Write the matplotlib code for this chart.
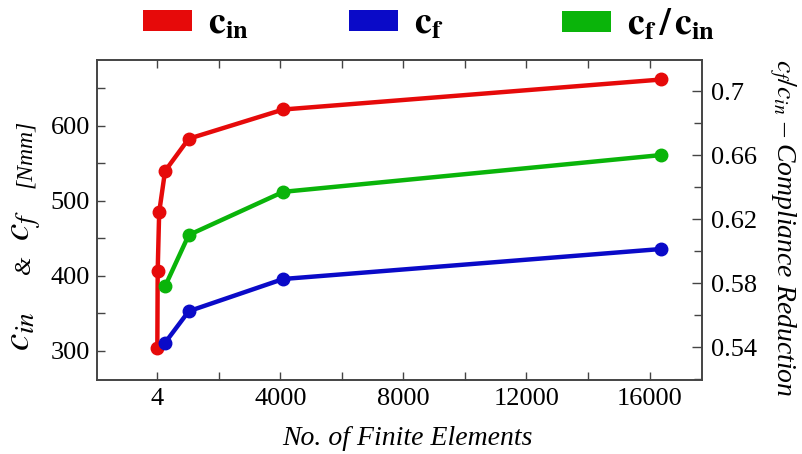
import matplotlib
matplotlib.use("Agg")
import matplotlib.pyplot as plt
from matplotlib.patches import Patch
from matplotlib.ticker import FixedLocator, MultipleLocator

# ---- data ----
n_in = [4, 16, 64, 256, 1024, 4096, 16384]
c_in = [304, 407, 485, 540, 583, 622, 662]
n_f = [256, 1024, 4096, 16384]
c_f = [311, 353, 396, 436]
ratio = [0.578, 0.610, 0.637, 0.660]
x_ticks = [4, 4000, 8000, 12000, 16000]
x_ticklabels = ["4", "4000", "8000", "12000", "16000"]
left_ticks = [300, 400, 500, 600]
right_ticks = [0.54, 0.58, 0.62, 0.66, 0.70]
right_ticklabels = ["0.54", "0.58", "0.62", "0.66", "0.7"]

RED, BLUE, GREEN = "#e60a0a", "#0a0ac8", "#0ab40a"
SPINE = "#444444"

plt.rcParams.update({
    "font.family": ["Liberation Serif", "DejaVu Serif"],
    "mathtext.fontset": "stix",
})

W, H = 803, 454
fx = lambda x: x / W
fy = lambda y: 1 - y / H

fig = plt.figure(figsize=(W / 100, H / 100), dpi=100)
ax = fig.add_axes([fx(96.7), fy(380), (702.3 - 96.7) / W, 320 / H])
ax2 = ax.twinx()

lw, ms = 3.2, 9
ax.plot(n_in, c_in, color=RED, lw=lw, marker="o", ms=ms, zorder=3)
ax.plot(n_f, c_f, color=BLUE, lw=lw, marker="o", ms=ms, zorder=4)
ax2.plot(n_f, ratio, color=GREEN, lw=lw, marker="o", ms=ms, zorder=5)

ax.set_xlim(-1966, 17713)
ax.set_ylim(261.3, 688)
ax2.set_ylim(0.5194, 0.7194)

ax.xaxis.set_major_locator(FixedLocator(x_ticks))
ax.set_xticklabels(x_ticklabels)
ax.xaxis.set_minor_locator(FixedLocator([2000, 6000, 10000, 14000]))
ax.yaxis.set_major_locator(FixedLocator(left_ticks))
ax.yaxis.set_minor_locator(MultipleLocator(50))
ax2.yaxis.set_major_locator(FixedLocator(right_ticks))
ax2.set_yticklabels(right_ticklabels)
ax2.yaxis.set_minor_locator(MultipleLocator(0.02))

for a in (ax, ax2):
    for s in a.spines.values():
        s.set_color(SPINE)
        s.set_linewidth(1.2)

ax.tick_params(axis="x", which="both", direction="in", top=True, bottom=True,
               length=6, width=1, color=SPINE, labelsize=19, pad=6)
ax.tick_params(axis="y", which="both", direction="in", left=True, right=False,
               length=6, width=1, color=SPINE, labelsize=19, pad=5)
ax2.tick_params(axis="y", which="both", direction="in", left=False, right=True,
                length=6, width=1, color=SPINE, labelsize=19, pad=6)
ax2.tick_params(axis="y", which="major", length=7)

# ---- axis labels ----
fig.text(fx(407), fy(445), "No. of Finite Elements", style="italic",
         fontsize=20, ha="center", va="baseline")

lab_kw = dict(rotation=90, rotation_mode="anchor", ha="left", va="baseline")
fig.text(fx(30), fy(351), r"$c_{in}$", fontsize=28, **lab_kw)
fig.text(fx(30), fy(274), "&", style="italic", fontsize=17, **lab_kw)
fig.text(fx(30), fy(241), r"$c_f$", fontsize=28, **lab_kw)
fig.text(fx(31), fy(188), "[Nmm]", style="italic", fontsize=17, **lab_kw)

fig.text(fx(777), fy(228), r"$c_f/c_{in}$ – Compliance Reduction",
         style="italic", fontsize=20, rotation=270, rotation_mode="anchor",
         ha="center", va="baseline")

# ---- legend ----
fs_leg = 27
fpx = fs_leg * 100 / 72
entries = [
    (RED, r"$\mathbf{c}_\mathbf{in}$", 143),
    (BLUE, r"$\mathbf{c}_\mathbf{f}$", 349),
    (GREEN, r"$\mathbf{c}_\mathbf{f}\,\mathbf{/}\,\mathbf{c}_\mathbf{in}$", 562),
]
for col, lab, x0 in entries:
    fig.legend(handles=[Patch(facecolor=col, edgecolor="none", label=lab)],
               loc="center left", bbox_to_anchor=(fx(x0), fy(25)),
               frameon=False, fontsize=fs_leg, borderpad=0, borderaxespad=0,
               handlelength=49 / fpx, handleheight=18 / fpx,
               handletextpad=16 / fpx)

fig.savefig("out.png", dpi=100)
